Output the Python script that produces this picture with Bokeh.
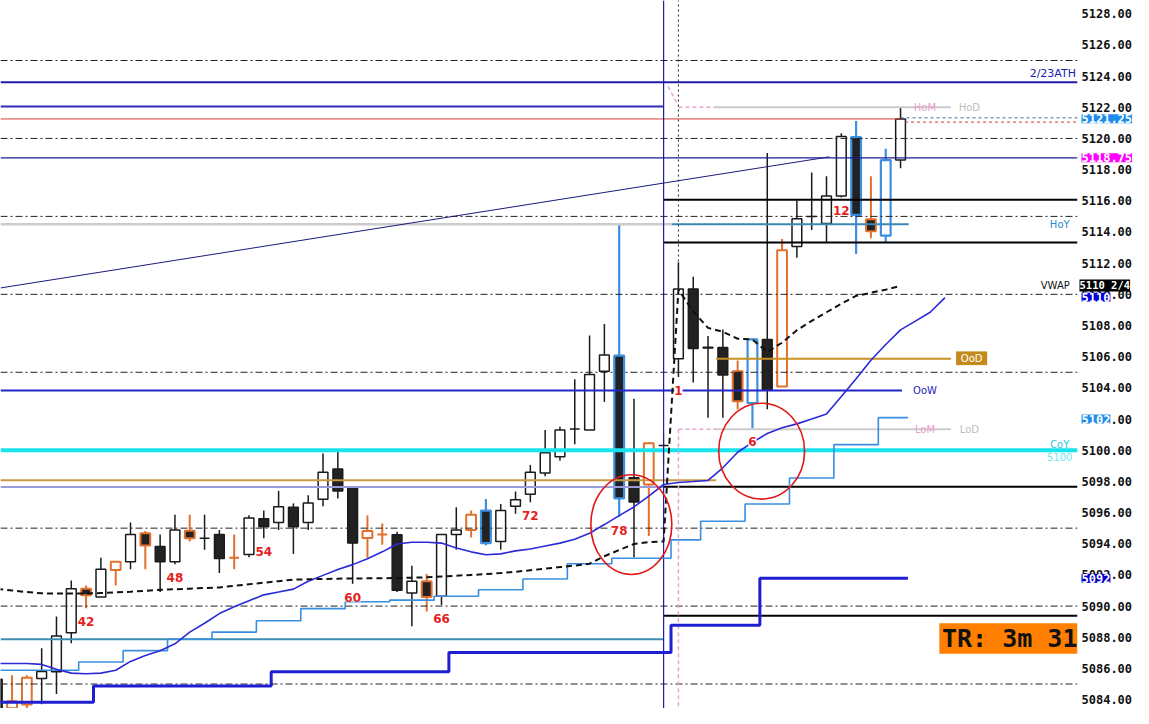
import numpy as np
from bokeh.plotting import figure
from bokeh.models import Range1d, FixedTicker, NumeralTickFormatter, LinearAxis, ColumnDataSource
from bokeh.embed import file_html
from bokeh.resources import INLINE
from bokeh.core.properties import value

# ---------------- data ----------------
# bar index: -1..44 = previous session (bars 36..81), 45..60 = today (bars 1..16)
bar_index = list(range(-1, 61))
opens = [5085.30, 5083.45, 5083.69, 5085.36, 5085.78, 5088.29, 5091.11, 5090.59, 5092.31, 5092.85,
         5094.67, 5093.83, 5092.85, 5094.84, 5094.35, 5094.60, 5093.10, 5093.31, 5095.61, 5095.36,
         5096.34, 5095.36, 5096.86, 5098.79, 5097.60, 5094.36, 5094.60, 5094.57, 5090.84, 5091.60,
         5090.63, 5094.60, 5094.88, 5096.13, 5094.15, 5096.41, 5097.18, 5098.54, 5099.58, 5101.36,
         5101.30, 5105.06, 5106.07, 5098.24, 5097.80, 5100.30, 5105.86, 5110.35, 5106.60, 5106.59,
         5105.06, 5103.03, 5107.11, 5104.08, 5113.07, 5115.00, 5114.54, 5116.31, 5120.08, 5114.81,
         5113.76, 5118.61]
highs = [5085.40, 5085.57, 5085.57, 5087.30, 5089.34, 5091.64, 5091.32, 5093.10, 5092.85, 5095.36,
         5094.81, 5094.60, 5095.86, 5095.86, 5095.86, 5094.88, 5094.60, 5095.82, 5096.13, 5097.39,
         5096.59, 5097.11, 5099.79, 5099.96, 5097.60, 5095.82, 5095.30, 5094.77, 5092.58, 5092.06,
         5094.60, 5096.34, 5096.13, 5096.87, 5096.55, 5097.35, 5099.06, 5101.30, 5101.50, 5104.56,
         5107.36, 5108.10, 5114.49, 5103.30, 5100.52, 5101.07, 5112.05, 5111.13, 5107.32, 5107.74,
         5105.75, 5107.11, 5119.07, 5113.55, 5116.00, 5117.82, 5117.57, 5120.33, 5121.12, 5117.57,
         5119.34, 5122.00]
lows = [5083.00, 5083.30, 5083.40, 5083.70, 5084.36, 5087.62, 5089.86, 5090.59, 5091.32, 5092.37,
        5092.37, 5090.90, 5092.68, 5094.15, 5093.62, 5092.12, 5092.37, 5093.14, 5094.35, 5094.88,
        5093.35, 5094.88, 5096.40, 5096.90, 5091.43, 5093.10, 5093.94, 5090.90, 5088.70, 5089.65,
        5090.07, 5093.62, 5094.40, 5093.90, 5093.62, 5095.92, 5096.66, 5098.33, 5099.33, 5100.38,
        5101.30, 5103.10, 5095.72, 5093.14, 5094.50, 5099.06, 5104.70, 5104.35, 5102.09, 5102.09,
        5102.62, 5101.40, 5102.62, 5104.08, 5112.34, 5114.12, 5113.38, 5116.21, 5112.59, 5113.60,
        5113.38, 5118.09]
closes = [5083.20, 5083.90, 5085.40, 5085.80, 5088.08, 5091.11, 5090.69, 5092.37, 5092.85, 5094.60,
          5093.89, 5092.85, 5094.88, 5094.35, 5094.35, 5093.06, 5093.10, 5095.65, 5095.09, 5096.38,
          5095.09, 5096.61, 5098.58, 5097.39, 5094.04, 5094.82, 5094.60, 5091.01, 5091.60, 5090.59,
          5094.60, 5094.88, 5095.86, 5094.04, 5096.13, 5096.82, 5098.58, 5099.83, 5101.30, 5101.36,
          5104.85, 5106.11, 5096.91, 5096.68, 5100.44, 5100.30, 5110.35, 5106.52, 5106.55, 5104.83,
          5103.14, 5107.11, 5103.87, 5112.82, 5114.85, 5115.00, 5116.31, 5120.12, 5115.10, 5114.05,
          5118.61, 5121.25]
bar_kind = ["n", "o", "o", "n", "n", "n", "o", "n", "o", "n",
            "o", "n", "n", "o", "n", "n", "o", "n", "n", "n",
            "n", "n", "n", "n", "n", "o", "o", "n", "n", "o",
            "n", "n", "o", "b", "n", "n", "n", "n", "n", "n",
            "n", "n", "b", "n", "o", "y", "n", "n", "n", "n",
            "o", "b", "n", "o", "n", "n", "n", "n", "b", "o",
            "b", "n"]

bar_number_text = ["42", "48", "54", "60", "66", "72", "78", "1", "6", "12"]
bar_number_at = [5, 11, 17, 23, 29, 35, 41, 45, 50, 56]

vwap = [5091.10, 5091.00, 5090.90, 5090.82, 5090.80, 5090.80, 5090.80, 5090.84, 5090.88, 5090.92,
        5090.98, 5091.05, 5091.08, 5091.12, 5091.16, 5091.20, 5091.30, 5091.40, 5091.50, 5091.60,
        5091.70, 5091.72, 5091.74, 5091.76, 5091.77, 5091.78, 5091.79, 5091.80, 5091.82, 5091.85,
        5091.90, 5091.95, 5092.00, 5092.05, 5092.12, 5092.20, 5092.30, 5092.40, 5092.50, 5092.60,
        5092.72, 5093.20, 5093.60, 5093.98, 5094.10, 5094.15,
        5110.30, 5108.90, 5107.85, 5107.60, 5107.15, 5107.10, 5106.30, 5106.90, 5107.70, 5108.30,
        5108.85, 5109.40, 5109.90, 5110.10, 5110.30, 5110.55]

ma_index = list(range(-1, 64))
ma = [5086.32, 5086.32, 5086.32, 5086.26, 5085.95, 5085.70, 5085.66, 5085.70, 5085.88, 5086.45,
      5086.83, 5087.14, 5087.58, 5088.33, 5088.90, 5089.52, 5089.96, 5090.34, 5090.72, 5090.90,
      5091.09, 5091.59, 5091.97, 5092.35, 5092.66, 5093.04, 5093.48, 5093.98, 5094.10, 5094.10,
      5094.04, 5093.73, 5093.48, 5093.29, 5093.35, 5093.54, 5093.66, 5093.85, 5094.04, 5094.29,
      5094.67, 5095.23, 5095.80, 5096.36, 5097.05, 5097.80, 5097.93, 5097.99, 5098.06, 5098.87,
      5099.87, 5100.50, 5101.07, 5101.44, 5101.69, 5102.00, 5102.32, 5103.45, 5104.58, 5105.77,
      5106.78, 5107.72, 5108.28, 5108.85, 5109.79]

trail_light = [5085.88] * 6 + [5086.41] * 3 + [5087.14] * 3 + [5087.87] * 3 + [5088.33] * 3 + \
              [5089.06] * 3 + [5089.84] * 3 + [5090.28] * 3 + [5090.38] * 3 + [5090.63] * 3 + \
              [5091.05] * 3 + [5091.74] * 3 + [5092.72] * 3 + [5093.07] * 4 + [5094.25] * 2 + \
              [5095.44] * 3 + [5096.55] * 3 + [5098.22] * 3 + [5100.36] * 3 + [5102.09] * 2
trail_dark = [5083.83] * 7 + [5084.88] * 12 + [5085.78] * 12 + [5087.03] * 15 + \
             [5088.77] * 6 + [5091.78] * 10

grid_levels = [5085, 5090, 5095, 5105, 5110, 5115, 5120, 5125]
axis_ticks = list(range(5084, 5129, 2))

X0, X1 = -0.78, 71.95
Y0, Y1 = 5083.43, 5128.85
SESSION = 44.0

# horizontal levels: price, from bar, to bar
lvl_price = [5123.60, 5122.05, 5122.00, 5121.25, 5118.75, 5116.06, 5113.32, 5114.50, 5114.50,
             5105.86, 5103.83, 5101.35, 5100.00, 5098.07, 5097.64, 5097.65, 5089.38, 5087.87]
lvl_from = [X0, X0, 47.4, X0, X0, SESSION, SESSION, X0, 44.55,
            47.55, X0, 47.55, X0, X0, X0, SESSION, SESSION, X0]
lvl_to = [X1, SESSION, 63.4, 60.0, X1, X1, X1, 44.55, 60.55,
          63.4, 60.1, 63.4, X1, 47.55, SESSION, X1, X1, SESSION]
lvl_color = ["#1c1ca6", "#2c2cb4", "#c9c9c9", "#d43a3a", "#1c1c96", "#000000", "#000000", "#cccccc", "#3c88b2",
             "#c8901e", "#2424c8", "#cccccc", "#19e3ec", "#c89a46", "#9c9cda", "#000000", "#000000", "#3c8cb4"]
lvl_width = [2, 2, 2, 1, 1.2, 2, 2, 2.5, 2,
             2, 2, 2, 4, 2, 2, 2, 2, 2]

trend_x = [X0, 55.2]
trend_y = [5110.41, 5118.82]

ann_x = [41.82, 50.62]
ann_y = [5095.23, 5099.94]
ann_w = [5.47, 5.8]
ann_h = [6.4, 6.15]

tag_text = ["5121.25", "5118.75", "5110", "5102", "5092"]
tag_price = [5121.27, 5118.76, 5109.82, 5102.0, 5091.78]
tag_color = ["#1e8ceb", "#ff00ff", "#0000dc", "#1e8ceb", "#0000c8"]
vwap_tag_text = "5110 2/4"
vwap_tag_price = 5110.57

W, H = 1133, 708
FRAME_PX = 1077                       # pixels used by the price area
XR = X0 + (X1 - X0) * W / FRAME_PX    # range end so that the price scale sits right of X1

# ---------------- figure ----------------
p = figure(width=W, height=H, x_range=Range1d(X0, XR), y_range=Range1d(Y0, Y1),
           output_backend="svg", toolbar_location=None, y_axis_location=None,
           x_axis_location=None, min_border=0)
p.grid.visible = False
p.outline_line_color = None
p.background_fill_color = "white"
p.border_fill_color = "white"

# ---- candles ----
outline_map = {"n": "#1a1a1a", "o": "#e2702e", "b": "#3d8fe0", "y": "#1a1a1a"}
wick_map = {"n": "#1a1a1a", "o": "#e2702e", "b": "#3d8fe0", "y": "#d8b848"}
width_map = {"n": 1.5, "o": 2.0, "b": 2.2, "y": 1.5}
o = np.array(opens); c = np.array(closes)
cs = ColumnDataSource(dict(
    x=bar_index, high=highs, low=lows,
    top=np.maximum(o, c), bottom=np.minimum(o, c),
    fill=["white" if cc >= oo else "#222222" for oo, cc in zip(opens, closes)],
    line=[outline_map[k] for k in bar_kind],
    wick=[wick_map[k] for k in bar_kind],
    lw=[width_map[k] for k in bar_kind],
))
p.segment(x0="x", y0="low", x1="x", y1="high", source=cs, line_color="wick", line_width="lw")
p.vbar(x="x", width=0.66, top="top", bottom="bottom", source=cs,
       fill_color="fill", line_color="line", line_width="lw")

# ---- grid dash-dot lines ----
p.segment(x0=[X0] * len(grid_levels), y0=grid_levels, x1=[X1] * len(grid_levels), y1=grid_levels,
          line_color="#222222", line_width=1, line_dash="7 3 2 3")

# ---- level lines ----
p.segment(x0=lvl_from, y0=lvl_price, x1=lvl_to, y1=lvl_price, line_color=lvl_color, line_width=lvl_width)
p.segment(x0=[60.0], y0=[5121.32], x1=[X1], y1=[5121.32], line_color="#2f6f9f", line_width=1, line_dash="3 3")
p.segment(x0=[60.3], y0=[5121.05], x1=[X1], y1=[5121.05], line_color="#d43a3a", line_width=1, line_dash="3 3")
p.segment(x0=[45.0, 45.0, 44.3, 45.0], y0=[5122.0, 5101.35, 5123.34, 5101.35],
          x1=[47.4, 47.55, 45.0, 45.0], y1=[5122.0, 5101.35, 5122.1, Y0],
          line_color="#e6a6d2", line_width=1.5, line_dash="4 3")
p.segment(x0=[SESSION], y0=[Y0], x1=[SESSION], y1=[Y1], line_color="#1c1ca6", line_width=1.2)
p.segment(x0=[45.0], y0=[5110.5], x1=[45.0], y1=[Y1], line_color="#222222", line_width=1, line_dash="2 3")
p.line(trend_x, trend_y, line_color="#1a1a80", line_width=1)

# ---- step lines ----
def step_path(idx, vals):
    xs, ys = [], []
    for g, v in zip(idx, vals):
        xs += [g - 0.5, g + 0.5]
        ys += [v, v]
    return xs, ys

sx, sy = step_path(bar_index, trail_light)
p.line(sx, sy, line_color="#3a8ee0", line_width=1.6)
dx, dy = step_path(bar_index, trail_dark)
p.line(dx, dy, line_color="#1f1fd2", line_width=3)

# ---- MA and VWAP ----
p.line(ma_index, ma, line_color="#2a2ad8", line_width=1.6)
p.line(bar_index, vwap, line_color="#111111", line_width=2, line_dash="6 4")

# ---- annotation ellipses ----
p.ellipse(x=ann_x, y=ann_y, width=ann_w, height=ann_h, fill_color=None,
          line_color="#e01818", line_width=1.6)

# ---- in-chart texts ----
def txt(x, y, t, color, size="10px", align="center", baseline="middle", style="normal", font="DejaVu Sans"):
    p.text(x=[x], y=[y], text=[t], text_color=color, text_font=value(font), text_font_size=size,
           text_align=align, text_baseline=baseline, text_font_style=style)

txt(X1 - 0.1, 5123.75, "2/23ATH", "#2020b0", size="11px", align="right", baseline="bottom")
txt(61.65, 5122.0, "HoM", "#e8a0c8")
txt(64.65, 5122.0, "HoD", "#bdbdbd")
txt(70.75, 5114.5, "HoY", "#2a88d0")
txt(70.45, 5110.55, "VWAP", "#111111")
p.quad(left=[63.75], right=[65.85], top=[5106.34], bottom=[5105.46], fill_color="#c48a1a", line_color=None)
txt(64.8, 5105.9, "OoD", "white")
txt(61.65, 5103.83, "OoW", "#2323c0")
txt(61.65, 5101.35, "LoM", "#e8a0c8")
txt(64.65, 5101.35, "LoD", "#bdbdbd")
txt(70.75, 5100.35, "CoY", "#20c8d8")
txt(70.75, 5099.55, "5100", "#70e6f0")
p.quad(left=[62.62], right=[X1], top=[5088.9], bottom=[5086.95], fill_color="#ff7f00", line_color=None)
txt(62.8, 5087.9, "TR: 3m 31s", "#111111", size="25px", align="left", style="bold", font="DejaVu Sans Mono")

# ---- bar number labels (white backed) ----
lab_y = [lows[bar_index.index(g)] - 0.85 for g in bar_number_at]
p.text(x=bar_number_at, y=lab_y, text=bar_number_text, text_align="center", text_baseline="middle",
       text_color="#e61e1e", text_font=value("DejaVu Sans"), text_font_size="12px",
       text_font_style="bold", background_fill_color="white")

# blank the price-scale strip (keeps the TR text cut at the price area edge)
p.quad(left=[X1], right=[XR + 1], top=[Y1 + 1], bottom=[Y0 - 1], fill_color="white", line_color=None)

# ---- price scale on the right ----
ax = LinearAxis(fixed_location=X1)
ax.ticker = FixedTicker(ticks=axis_ticks)
ax.formatter = NumeralTickFormatter(format="0.00")
ax.axis_line_color = None
ax.major_tick_line_color = None
ax.minor_tick_line_color = None
ax.major_tick_out = 0
ax.major_tick_in = 0
ax.minor_tick_out = 0
ax.minor_tick_in = 0
ax.major_label_standoff = 4
ax.major_label_text_font = "DejaVu Sans Mono"
ax.major_label_text_font_size = "12px"
ax.major_label_text_font_style = "bold"
ax.major_label_text_color = "#111111"
p.add_layout(ax, "right")

# ---- right-side price tags ----
p.text(x=[X1], y=[vwap_tag_price], text=[vwap_tag_text], x_offset=2,
       text_align="left", text_baseline="middle", text_color="white",
       text_font=value("DejaVu Sans Mono"), text_font_size="10.5px", text_font_style="bold",
       background_fill_color="#000000", level="overlay")
p.text(x=[X1] * len(tag_text), y=tag_price, text=tag_text, x_offset=4,
       text_align="left", text_baseline="middle", text_color="white",
       text_font=value("DejaVu Sans Mono"), text_font_size="12px", text_font_style="bold",
       background_fill_color=tag_color, level="overlay")

open("out.html", "w").write(file_html(p, INLINE))
